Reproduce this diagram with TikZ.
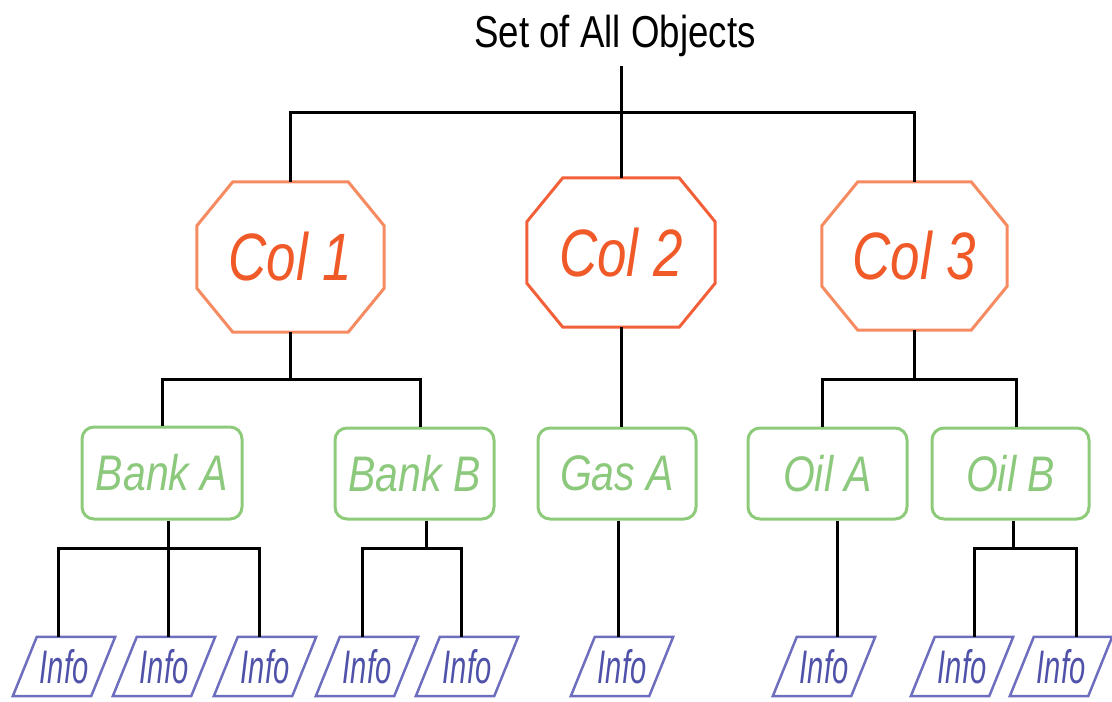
\documentclass[tikz,border=0pt]{standalone}
\usepackage{fontspec}
\setmainfont{Liberation Sans}
\usepackage{graphicx}
\usetikzlibrary{calc}
\definecolor{colline}{HTML}{F68A60}
\definecolor{colline2}{HTML}{F2603A}
\definecolor{coltxt}{HTML}{F05A28}
\definecolor{grn}{HTML}{8DCB7B}
\definecolor{grntxt}{HTML}{8CC97C}
\definecolor{infoline}{HTML}{6E6EBE}
\definecolor{infotxt}{HTML}{4F52A8}
\newcommand{\octagonof}[2]{\draw[octline,#2] ([xshift=36pt]#1.north west) -- ([xshift=-36pt]#1.north east) -- ([yshift=-44pt]#1.north east) -- ([yshift=44pt]#1.south east) -- ([xshift=-36pt]#1.south east) -- ([xshift=36pt]#1.south west) -- ([yshift=44pt]#1.south west) -- ([yshift=-44pt]#1.north west) -- cycle;}
\newcommand{\infoshapeof}[1]{\draw[infoborder] ([xshift=12pt]#1.north west) -- ([xshift=12pt]#1.north east) -- ([xshift=-12pt]#1.south east) -- ([xshift=-12pt]#1.south west) -- cycle;}
\begin{document}
\begin{tikzpicture}[x=1pt,y=-1pt,
  conn/.style={line width=3pt, black},
  titlenode/.style={font=\fontsize{44.7}{50}\selectfont, inner sep=0pt, outer ysep=10pt, anchor=base},
  colnode/.style={rectangle, inner sep=0pt, minimum width=187pt, minimum height=150pt, text=coltxt, font=\fontsize{67}{70}\selectfont\itshape},
  octline/.style={line width=3pt, line join=miter, draw=colline},
  banknode/.style={draw=grn, line width=3pt, rounded corners=12pt, minimum width=159pt, minimum height=91pt, inner sep=0pt, text=grntxt, font=\fontsize{50}{55}\selectfont\itshape},
  infonode/.style={rectangle, inner sep=0pt, minimum width=78pt, minimum height=59pt, text=infotxt, font=\fontsize{47}{50}\selectfont\itshape},
  infoborder/.style={draw=infoline, line width=2.5pt, line join=miter}
]
\useasboundingbox (0,0) rectangle (1112,702);

% title
\node[titlenode] (title) at (615,47) {\scalebox{0.82}[1]{Set of All Objects}};

% level 1
\node[colnode, minimum width=187pt, minimum height=150pt] (col1) at (290.5,257) {\scalebox{0.79}[1]{Col 1}};
\node[colnode, minimum width=188pt, minimum height=149pt] (col2) at (621,252.5) {\scalebox{0.79}[1]{Col 2}};
\node[colnode, minimum width=185pt, minimum height=148pt] (col3) at (914.5,256) {\scalebox{0.79}[1]{Col 3}};
\octagonof{col1}{}
\octagonof{col2}{draw=colline2}
\octagonof{col3}{}

% level 2
\node[banknode, minimum width=160pt, minimum height=92pt] (bankA) at (162,473) {\scalebox{0.82}[1]{Bank A}};
\node[banknode] (bankB) at (414.5,473.5) {\scalebox{0.82}[1]{Bank B}};
\node[banknode, minimum width=158pt] (gasA) at (617,473.5) {\scalebox{0.82}[1]{Gas A}};
\node[banknode] (oilA) at (827.5,473.5) {\scalebox{0.82}[1]{Oil A}};
\node[banknode, minimum width=157pt] (oilB) at (1010.5,473.5) {\scalebox{0.82}[1]{Oil B}};

% level 3
\node[infonode] (info1) at (64,666.5) {\scalebox{0.62}[1]{Info}};
\node[infonode] (info2) at (164,666.5) {\scalebox{0.62}[1]{Info}};
\node[infonode] (info3) at (265,666.5) {\scalebox{0.62}[1]{Info}};
\node[infonode] (info4) at (367,666.5) {\scalebox{0.62}[1]{Info}};
\node[infonode] (info5) at (467,666.5) {\scalebox{0.62}[1]{Info}};
\node[infonode] (info6) at (622,666.5) {\scalebox{0.62}[1]{Info}};
\node[infonode] (info7) at (824,666.5) {\scalebox{0.62}[1]{Info}};
\node[infonode] (info8) at (962,666.5) {\scalebox{0.62}[1]{Info}};
\node[infonode] (info9) at (1061,666.5) {\scalebox{0.62}[1]{Info}};
\foreach \i in {1,...,9} {\infoshapeof{info\i}}

% connectors: title to level 1
\coordinate (j0) at (621,112);
\draw[conn] (title.south -| col2.north) -- (col2.north);
\draw[conn] (col1.north) |- (j0) -| (col3.north);

% level 1 to level 2
\coordinate (j1) at ([yshift=-47pt]col1.south);
\draw[conn] (col1.south) -- (j1);
\draw[conn] (bankA.north) |- (j1) -| ([xshift=5.5pt]bankB.north);
\draw[conn] (col2.south) -- (col2.south |- gasA.north);
\coordinate (j3) at ([yshift=-49pt]col3.south);
\draw[conn] (col3.south) -- (j3);
\draw[conn] ([xshift=-5.5pt]oilA.north) |- (j3) -| ([xshift=5.5pt]oilB.north);

% level 2 to level 3
\coordinate (jA) at ([xshift=6pt,yshift=-28pt]bankA.south);
\draw[conn] (bankA.south -| jA) -- (jA);
\draw[conn] ([xshift=-6pt]info1.north) |- (jA) -| ([xshift=-6pt]info3.north);
\draw[conn] (jA) -- (jA |- info2.north);

\coordinate (jB) at ([xshift=11.5pt,yshift=-28pt]bankB.south);
\draw[conn] (bankB.south -| jB) -- (jB);
\draw[conn] ([xshift=-5pt]info4.north) |- (jB) -| ([xshift=-6pt]info5.north);

\draw[conn] ([xshift=1pt]gasA.south) -- ([xshift=1pt]gasA.south |- info6.north);
\draw[conn] ([xshift=10pt]oilA.south) -- ([xshift=10pt]oilA.south |- info7.north);

\coordinate (jC) at ([xshift=2.5pt,yshift=-28pt]oilB.south);
\draw[conn] (oilB.south -| jC) -- (jC);
\draw[conn] ([xshift=12pt]info8.north) |- (jC) -| ([xshift=15pt]info9.north);
\end{tikzpicture}
\end{document}
